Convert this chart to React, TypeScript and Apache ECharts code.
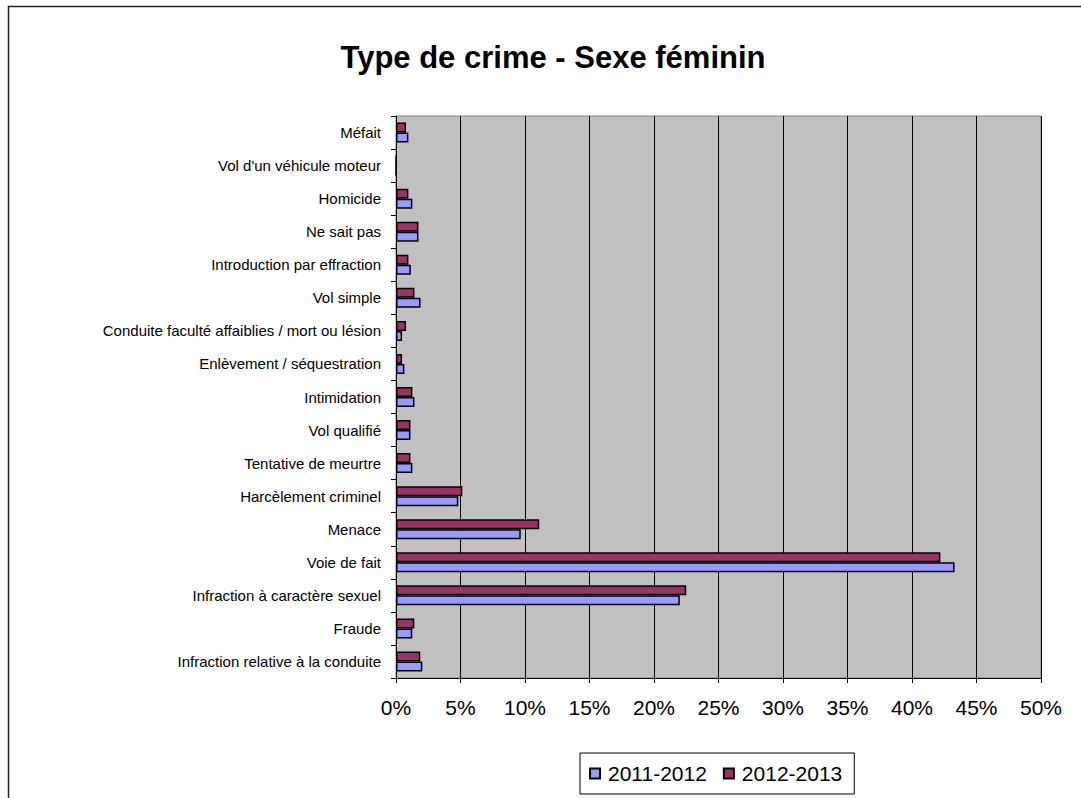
import React, { useEffect, useRef } from "react";
import * as echarts from "echarts";

const categories = [
  "Infraction relative à la conduite",
  "Fraude",
  "Infraction à caractère sexuel",
  "Voie de fait",
  "Menace",
  "Harcèlement criminel",
  "Tentative de meurtre",
  "Vol qualifié",
  "Intimidation",
  "Enlèvement / séquestration",
  "Conduite faculté affaiblies / mort ou lésion",
  "Vol simple",
  "Introduction par effraction",
  "Ne sait pas",
  "Homicide",
  "Vol d'un véhicule moteur",
  "Méfait",
];

const values20112012 = [2.04, 1.26, 22.0, 43.3, 9.67, 4.83, 1.27, 1.12, 1.43, 0.65, 0.47, 1.9, 1.15, 1.74, 1.27, 0, 0.96];
const values20122013 = [1.88, 1.42, 22.5, 42.2, 11.1, 5.14, 1.12, 1.12, 1.27, 0.47, 0.78, 1.43, 0.96, 1.74, 0.96, 0, 0.78];

const seriesNames = ["2011-2012", "2012-2013"];
const title = "Type de crime - Sexe féminin";

export default function App() {
  const ref = useRef<HTMLDivElement>(null);
  useEffect(() => {
    if (!ref.current) return;
    const chart = echarts.init(ref.current, undefined, { renderer: "svg" });
    const font = "Arial, 'Liberation Sans', sans-serif";
    chart.setOption({
      animation: false,
      backgroundColor: "#ffffff",
      textStyle: { fontFamily: font },
      title: {
        text: title,
        left: 548,
        textAlign: "center",
        top: 37,
        textStyle: { fontSize: 31, fontWeight: "bold", color: "#000", fontFamily: font },
      },
      graphic: [
        {
          type: "rect",
          shape: { x: 8.5, y: 6.5, width: 1200, height: 900 },
          style: { fill: "none", stroke: "#222", lineWidth: 1.5 },
          silent: true,
          z: 100,
        },
      ],
      grid: {
        left: 396,
        right: 40,
        top: 116,
        bottom: 120,
        show: true,
        backgroundColor: "#c0c0c0",
        borderColor: "#808080",
        borderWidth: 1,
      },
      legend: {
        data: seriesNames,
        left: 580,
        top: 753,
        orient: "horizontal",
        icon: "rect",
        itemWidth: 10,
        itemHeight: 10,
        itemGap: 16,
        borderColor: "#000",
        borderWidth: 1,
        padding: [10, 12, 10, 9],
        textStyle: { fontSize: 21, color: "#000", fontFamily: font, padding: [0, 0, 0, 3] },
      },
      xAxis: {
        type: "value",
        min: 0,
        max: 50,
        interval: 5,
        axisLine: { show: true, lineStyle: { color: "#000" } },
        axisTick: { show: true, length: 5, lineStyle: { color: "#000" } },
        axisLabel: { formatter: "{value}%", fontSize: 21, color: "#000", margin: 19, fontFamily: font },
        splitLine: { show: true, lineStyle: { color: "#000", width: 1 } },
      },
      yAxis: {
        type: "category",
        data: categories,
        axisLine: { show: true, lineStyle: { color: "#000" } },
        axisTick: { show: true, length: 5, lineStyle: { color: "#000" } },
        axisLabel: { fontSize: 15, color: "#000", margin: 15, interval: 0, fontFamily: font },
        splitLine: { show: false },
      },
      series: [
        {
          name: seriesNames[1],
          type: "bar",
          data: values20122013,
          barWidth: 10,
          barGap: "0%",
          itemStyle: { color: "#993366", borderColor: "#000", borderWidth: 1.5 },
        },
        {
          name: seriesNames[0],
          type: "bar",
          data: values20112012,
          barWidth: 10,
          barGap: "0%",
          itemStyle: { color: "#9999ff", borderColor: "#000", borderWidth: 1.5 },
        },
      ],
    });
    return () => chart.dispose();
  }, []);
  return (
    <div
      ref={ref}
      style={{ position: "fixed", left: 0, top: 0, width: 1081, height: 798 }}
    />
  );
}
